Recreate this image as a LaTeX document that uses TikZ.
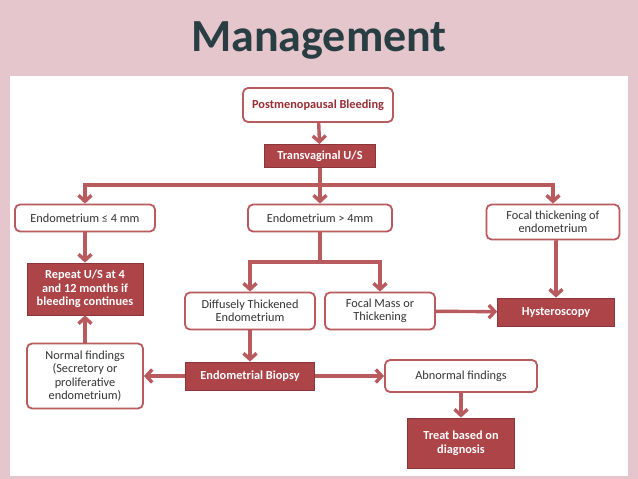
\documentclass[tikz,border=0pt]{standalone}
\usepackage{fontspec}
\setmainfont{Carlito}
\usetikzlibrary{arrows.meta}
\definecolor{dred}{RGB}{150,45,50}
\definecolor{fred}{RGB}{172,68,72}
\definecolor{lred}{RGB}{185,90,95}
\definecolor{band}{RGB}{228,198,204}
\definecolor{teal1}{RGB}{40,62,66}
\tikzset{
 wbox/.style={draw=lred,line width=1.8pt,rounded corners=5pt,fill=white,text=black!80,font=\fontsize{12.3}{13.5}\selectfont,align=center,inner sep=2pt},
 rbox/.style={draw=fred!80!black,line width=0.8pt,fill=fred,text=white,font=\bfseries\fontsize{12.3}{13.5}\selectfont,align=center,inner sep=2pt},
 arr/.style={draw=lred,line width=3.4pt,-{Straight Barb[length=6pt,width=13pt]}},
 ln/.style={draw=lred,line width=3.4pt}
}
\begin{document}
\begin{tikzpicture}[x=1pt,y=-1pt]
\useasboundingbox (0,0) rectangle (638,479);
\fill[band] (0,0) rectangle (638,479);
\fill[white] (10,76) rectangle (628,476);
\node[font=\bfseries\fontsize{46}{48}\selectfont,text=teal1] (title) at (319,40) {Management};
\node[wbox,minimum width=150pt,minimum height=34pt,text=dred,font=\bfseries\fontsize{12.3}{13.5}\selectfont] (pb) at (318,105) {Postmenopausal Bleeding};
\node[rbox,minimum width=111pt,minimum height=23pt] (tv) at (320,156) {Transvaginal U/S};
\node[wbox,minimum width=140pt,minimum height=27pt] (e4) at (85,218) {Endometrium ≤ 4 mm};
\node[wbox,minimum width=144pt,minimum height=27pt] (eg) at (320,218) {Endometrium > 4mm};
\node[wbox,minimum width=133pt,minimum height=35pt] (ft) at (553,222) {Focal thickening of\\endometrium};
\node[rbox,minimum width=116pt,minimum height=52pt] (rep) at (85,289) {Repeat U/S at 4\\and 12 months if\\bleeding continues};
\node[wbox,minimum width=130pt,minimum height=37pt] (dt) at (250,311) {Diffusely Thickened\\Endometrium};
\node[wbox,minimum width=110pt,minimum height=37pt] (fm) at (380,311) {Focal Mass or\\Thickening};
\node[rbox,minimum width=117pt,minimum height=28pt] (hy) at (556,312) {Hysteroscopy};
\node[wbox,minimum width=116pt,minimum height=65pt] (nf) at (85,376) {Normal findings\\(Secretory or\\proliferative\\endometrium)};
\node[rbox,minimum width=129pt,minimum height=28pt] (eb) at (250,376) {Endometrial Biopsy};
\node[wbox,minimum width=152pt,minimum height=32pt] (ab) at (461,376) {Abnormal findings};
\node[rbox,minimum width=107pt,minimum height=50pt] (tr) at (461,443) {Treat based on\\diagnosis};
\coordinate (j1) at (320,185);
\draw[arr] (pb) -- (tv);
\draw[ln] (tv) -- (j1);
\draw[arr] (j1) -| (e4);
\draw[arr] (j1) -- (eg);
\draw[arr] (j1) -| (ft);
\coordinate (j2) at (320,262);
\draw[ln] (eg) -- (j2);
\draw[arr] (j2) -| (dt);
\draw[arr] (j2) -| (fm);
\draw[arr] (e4) -- (rep);
\draw[arr] (fm) -- (hy);
\draw[arr] (ft) -- (ft.south -| hy.north) -- (hy);
\draw[arr] (dt) -- (eb);
\draw[arr] (eb) -- (nf);
\draw[arr] (eb) -- (ab);
\draw[arr] (nf) -- (rep);
\draw[arr] (ab) -- (tr);
\end{tikzpicture}
\end{document}
